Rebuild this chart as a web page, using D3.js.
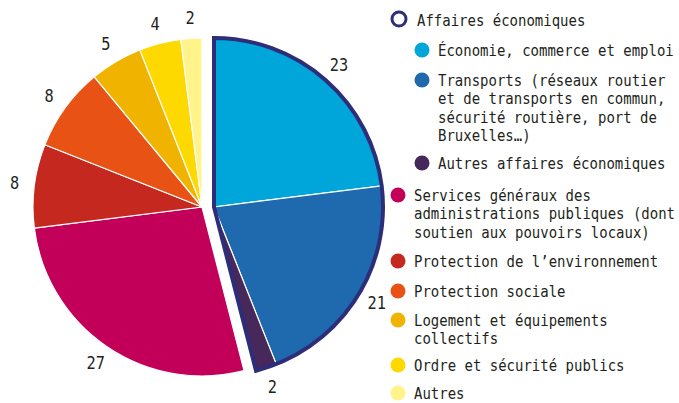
<!DOCTYPE html>
<html>
<head>
<meta charset="utf-8">
<script src="https://cdn.jsdelivr.net/npm/d3@7"></script>
<style>
  body { margin: 0; background: #fff; }
  svg text { font-family: "DejaVu Sans Mono", monospace; fill: #231f20; }
</style>
</head>
<body>
<svg></svg>
<script>
  // categories, in the order the slices run clockwise from the top
  let categories = [
    'Économie, commerce et emploi',
    'Transports',
    'Autres affaires économiques',
    'Services généraux',
    'Protection de l’environnement',
    'Protection sociale',
    'Logement et équipements collectifs',
    'Ordre et sécurité publics',
    'Autres'
  ]
  let values = [23, 21, 2, 27, 8, 8, 5, 4, 2]
  let colors = ['#00a6da', '#1f69ae', '#46285a', '#c2005a', '#c4281e',
                '#e85215', '#f0b400', '#fdd900', '#fff38a']
  // the first three slices form the "Affaires économiques" group
  let groupSize = 3
  let groupTitle = 'Affaires économiques'

  // legend lines (with line breaks as in the picture)
  let legendLines = [
    ['Économie, commerce et emploi'],
    ['Transports (réseaux routier', 'et de transports en commun,', 'sécurité routière, port de', 'Bruxelles…)'],
    ['Autres affaires économiques'],
    ['Services généraux des', 'administrations publiques (dont', 'soutien aux pouvoirs locaux)'],
    ['Protection de l’environnement'],
    ['Protection sociale'],
    ['Logement et équipements', 'collectifs'],
    ['Ordre et sécurité publics'],
    ['Autres']
  ]
  let legendY = [50, 80, 163, 195, 261, 291, 320, 365, 393]

  let svgWidth = 679, svgHeight = 403
  let cx = 202, cy = 207, radius = 169, explode = 12
  let navy = '#2e2d7a'

  let svg = d3.select('svg')
    .attr('width', svgWidth)
    .attr('height', svgHeight)

  let pie = d3.pie().sort(null).value(function (d) { return d })
  let slices = pie(values)

  let arc = d3.arc().innerRadius(0).outerRadius(radius)
  let labelArc = d3.arc().innerRadius(radius + 20).outerRadius(radius + 20)

  function shift(i) {
    return i < groupSize ? explode : 0
  }

  let chart = svg.append('g')
    .attr('transform', `translate(${cx},${cy})`)

  // de taartpunten
  chart.selectAll('path.slice')
    .data(slices)
    .enter()
    .append('path')
    .attr('class', 'slice')
    .attr('transform', function (d, i) { return `translate(${shift(i)},0)` })
    .attr('d', arc)
    .attr('fill', function (d, i) { return colors[i] })
    .attr('stroke', '#fff')
    .attr('stroke-width', 1.2)

  // omlijning rond de groep
  let groupArc = {
    startAngle: slices[0].startAngle,
    endAngle: slices[groupSize - 1].endAngle
  }
  chart.append('path')
    .attr('transform', `translate(${explode},0)`)
    .attr('d', arc(groupArc))
    .attr('fill', 'none')
    .attr('stroke', navy)
    .attr('stroke-width', 4)
    .attr('stroke-linejoin', 'miter')

  // waarden rond de taart
  chart.selectAll('text.value')
    .data(slices)
    .enter()
    .append('text')
    .attr('class', 'value')
    .attr('transform', function (d, i) {
      let c = labelArc.centroid(d)
      return `translate(${c[0] + shift(i)},${c[1]}) scale(0.9,1)`
    })
    .attr('text-anchor', 'middle')
    .attr('dy', '0.35em')
    .style('font-size', '17px')
    .text(function (d) { return d.data })

  // legenda
  let legend = svg.append('g')

  legend.append('circle')
    .attr('cx', 399)
    .attr('cy', 19)
    .attr('r', 7)
    .attr('fill', 'none')
    .attr('stroke', navy)
    .attr('stroke-width', 3)

  legend.append('text')
    .attr('transform', 'translate(417,26) scale(0.875,1)')
    .style('font-size', '16px')
    .text(groupTitle)

  let items = legend.selectAll('g.item')
    .data(categories)
    .enter()
    .append('g')
    .attr('class', 'item')
    .attr('transform', function (d, i) {
      let x = i < groupSize ? 422 : 398
      return `translate(${x},${legendY[i]})`
    })

  items.append('circle')
    .attr('r', 7.5)
    .attr('fill', function (d, i) { return colors[i] })

  items.append('text')
    .attr('transform', 'translate(16,6) scale(0.875,1)')
    .style('font-size', '16px')
    .selectAll('tspan')
    .data(function (d, i) { return legendLines[i] })
    .enter()
    .append('tspan')
    .attr('x', 0)
    .attr('dy', function (d, j) { return j === 0 ? 0 : 18.5 })
    .text(function (d) { return d })
</script>
</body>
</html>
